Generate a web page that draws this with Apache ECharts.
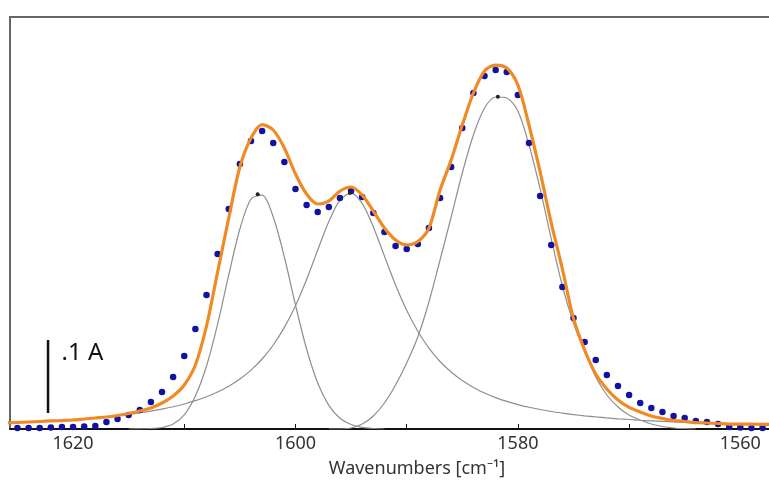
<!DOCTYPE html>
<html><head><meta charset="utf-8">
<script src="https://cdn.jsdelivr.net/npm/echarts@6/dist/echarts.min.js"></script>
<style>html,body{margin:0;padding:0;background:#fff}#c{width:769px;height:484px}</style>
</head><body><div id="c"></div>
<script>
// Wavenumbers (cm^-1), one sample per 1 cm^-1
const wavenumbers = [
  1626,1625,1624,1623,1622,1621,1620,1619,1618,1617,
  1616,1615,1614,1613,1612,1611,1610,1609,1608,1607,
  1606,1605,1604,1603,1602,1601,1600,1599,1598,1597,
  1596,1595,1594,1593,1592,1591,1590,1589,1588,1587,
  1586,1585,1584,1583,1582,1581,1580,1579,1578,1577,
  1576,1575,1574,1573,1572,1571,1570,1569,1568,1567,
  1566,1565,1564,1563,1562,1561,1560,1559,1558,1557
];
// Measured spectrum (blue dots), absorbance
const measured = [
  null,0.0014,0.0014,0.0014,0.0021,0.0027,0.0027,0.0034,0.0041,0.0096,
  0.0137,0.0192,0.0260,0.0370,0.0507,0.0712,0.1000,0.1370,0.1836,0.2397,
  0.3014,0.3630,0.3945,0.4082,0.3918,0.3658,0.3288,0.3068,0.2973,0.3041,
  0.3164,0.3260,0.3178,0.2959,0.2699,0.2507,0.2466,0.2534,0.2753,0.3164,
  0.3589,0.4123,0.4603,0.4836,0.4918,0.4890,0.4575,0.3918,0.3192,0.2521,
  0.1945,0.1521,0.1192,0.0945,0.0740,0.0589,0.0466,0.0356,0.0288,0.0233,
  0.0178,0.0151,0.0110,0.0096,0.0068,0.0027,0.0021,0.0014,0.0014,null
];
// Total fit (orange)
const fitTotal = [
  0.0082,0.0089,0.0096,0.0103,0.0110,0.0116,0.0123,0.0137,0.0151,0.0164,
  0.0185,0.0212,0.0247,0.0288,0.0356,0.0452,0.0603,0.0877,0.1411,0.2151,
  0.2890,0.3589,0.3986,0.4171,0.4096,0.3849,0.3493,0.3219,0.3082,0.3123,
  0.3260,0.3315,0.3205,0.2986,0.2753,0.2589,0.2521,0.2568,0.2753,0.3274,
  0.3685,0.4164,0.4603,0.4904,0.4986,0.4945,0.4712,0.4164,0.3521,0.2822,
  0.2192,0.1514,0.1082,0.0753,0.0548,0.0397,0.0295,0.0233,0.0178,0.0144,
  0.0116,0.0103,0.0089,0.0082,0.0075,0.0068,0.0068,0.0068,0.0062,0.0062
];
// Component bands (grey)
const band1 = [
  null,null,null,null,null,null,null,null,null,null,
  null,0,0.0003,0.0007,0.0021,0.0068,0.0192,0.0452,0.0863,0.1438,
  0.2110,0.2740,0.3151,0.3205,0.2904,0.2356,0.1699,0.1096,0.0630,0.0323,
  0.0148,0.0062,0.0022,0.0007,0,null,null,null,null,null,
  null,null,null,null,null,null,null,null,null,null,
  null,null,null,null,null,null,null,null,null,null,
  null,null,null,null,null,null,null,null,null,null
];
const band2 = [
  0.0087,0.0092,0.0099,0.0106,0.0113,0.0122,0.0132,0.0142,0.0155,0.0168,
  0.0184,0.0201,0.0222,0.0245,0.0273,0.0305,0.0343,0.0388,0.0442,0.0507,
  0.0586,0.0684,0.0806,0.0959,0.1151,0.1392,0.1690,0.2049,0.2451,0.2842,
  0.3136,0.3232,0.3090,0.2768,0.2368,0.1973,0.1626,0.1340,0.1109,0.0925,
  0.0780,0.0663,0.0569,0.0493,0.0430,0.0378,0.0335,0.0298,0.0267,0.0240,
  0.0218,0.0198,0.0180,0.0165,0.0152,0.0140,0.0130,0.0120,0.0112,0.0104,
  0.0097,0.0091,0.0086,0.0081,0.0076,0.0072,0.0068,0.0064,0.0061,0.0058
];
const band3 = [
  null,null,null,null,null,null,null,null,null,null,
  null,null,null,null,null,null,null,null,null,null,
  null,null,null,null,null,null,null,null,null,0,
  0,0.0014,0.0068,0.0178,0.0356,0.0603,0.0904,0.1260,0.1740,0.2315,
  0.2904,0.3507,0.4027,0.4397,0.4548,0.4534,0.4356,0.3890,0.3288,0.2603,
  0.1959,0.1452,0.1068,0.0712,0.0466,0.0301,0.0192,0.0123,0.0068,0.0034,
  0.0014,0.0004,0,null,null,null,null,null,null,null
];
// Band apex markers
const bandCenters = [1603.4, 1595.1, 1581.8];
const bandHeights = [0.3215, 0.3232, 0.4550];
// Axis
const xTickLabels = [1620, 1600, 1580, 1560];
const xTicks = [1620, 1610, 1600, 1590, 1580, 1570, 1560];
const xRange = [1557.42, 1625.67];
const yRange = [0, 0.5644];
const axisTitle = 'Wavenumbers [cm\u207B\u00B9]';
// Scale bar (0.1 absorbance units)
const scaleBarX = 1622.25;
const scaleBarY0 = 0.022;
const scaleBarLength = 0.1;
const scaleBarText = '.1 A';

function pairs(ys) {
  return wavenumbers.map((w, i) => [w, ys[i]]).filter(p => p[1] !== null);
}

const chart = echarts.init(document.getElementById('c'), null, {renderer: 'canvas'});
const FONT = 'Noto Sans';
const greyLine = {color: '#8e8e8e', width: 1.2};

chart.setOption({
  animation: false,
  backgroundColor: '#ffffff',
  grid: {left: 10, right: 0, top: 17, bottom: 55},
  xAxis: [{
    type: 'value', inverse: true, min: xRange[0], max: xRange[1], position: 'bottom',
    axisLine: {show: true, onZero: false, lineStyle: {color: '#111', width: 2}},
    axisTick: {show: true, inside: true, length: 5, customValues: xTicks, lineStyle: {color: '#111', width: 1}},
    axisLabel: {customValues: xTickLabels, fontSize: 18, color: '#333', margin: 6, fontFamily: FONT,
      formatter: v => String(Math.round(v))},
    splitLine: {show: false},
    name: axisTitle, nameLocation: 'middle', nameGap: 31,
    nameTextStyle: {fontSize: 18, color: '#333', fontFamily: FONT, padding: [0, 0, 0, 55]}
  }, {
    type: 'value', inverse: true, min: xRange[0], max: xRange[1], position: 'top',
    axisLine: {show: true, onZero: false, lineStyle: {color: '#666', width: 2}},
    axisTick: {show: false}, axisLabel: {show: false}, splitLine: {show: false}
  }],
  yAxis: {
    type: 'value', min: yRange[0], max: yRange[1],
    axisLine: {show: true, onZero: false, lineStyle: {color: '#666', width: 2}},
    axisTick: {show: false}, axisLabel: {show: false}, splitLine: {show: false}
  },
  series: [
    {type: 'line', name: 'band1', data: pairs(band1), smooth: 0.3, showSymbol: false, lineStyle: greyLine, z: 2, silent: true},
    {type: 'line', name: 'band2', data: pairs(band2), smooth: 0.3, showSymbol: false, lineStyle: greyLine, z: 2, silent: true},
    {type: 'line', name: 'band3', data: pairs(band3), smooth: 0.3, showSymbol: false, lineStyle: greyLine, z: 2, silent: true},
    {type: 'scatter', name: 'measured', data: pairs(measured), symbolSize: 6.5,
      itemStyle: {color: '#1212a2', opacity: 1}, z: 3, silent: true},
    {type: 'line', name: 'fit', data: pairs(fitTotal), smooth: 0.3, showSymbol: false,
      lineStyle: {color: '#ef8a24', width: 3.2}, z: 4, silent: true},
    {type: 'scatter', name: 'apex', data: bandCenters.map((c, i) => [c, bandHeights[i]]), symbolSize: 4,
      itemStyle: {color: '#222', opacity: 1}, z: 5, silent: true},
    {type: 'line', name: 'scalebar', data: [[scaleBarX, scaleBarY0], [scaleBarX, scaleBarY0 + scaleBarLength]],
      showSymbol: false, lineStyle: {color: '#111', width: 2.5}, z: 5, silent: true},
    {type: 'scatter', name: 'scalelabel', data: [[scaleBarX, scaleBarY0 + scaleBarLength]], symbolSize: 1,
      itemStyle: {color: 'rgba(0,0,0,0)'}, z: 6, silent: true,
      label: {show: true, position: 'right', distance: 13, offset: [0, 13], formatter: scaleBarText,
        fontSize: 24, color: '#111', opacity: 1, fontFamily: FONT}}
  ]
});
</script>
</body></html>
